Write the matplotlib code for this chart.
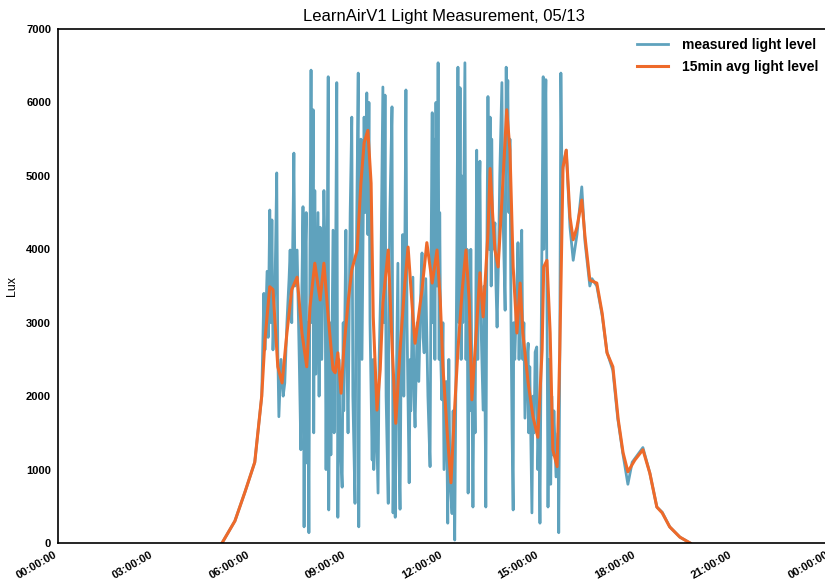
"""
LearnAirV1 light measurement for 05/13 (measured vs 15min average)
"""

import matplotlib
matplotlib.use("Agg")
import matplotlib.pyplot as plt
import matplotlib.dates as mdates
import pandas as pd

plt.rcParams["font.family"] = ["Liberation Sans", "DejaVu Sans"]

DAY = pd.Timestamp("2015-05-13")

# minutes after midnight, lux
avg_min = [306, 330, 349, 367, 380, 386, 395, 401, 410, 418, 427, 436, 446, 455, 464,
           470, 479, 489, 496, 504, 513, 517, 522, 528, 533, 541, 548, 558, 565, 571,
           578, 584, 588, 595, 601, 606, 616, 623, 630, 638, 647, 653, 662, 666, 679,
           688, 698, 707, 713, 718, 726, 733, 739, 746, 754, 761, 767, 772, 780, 787,
           793, 802, 806, 811, 815, 821, 828, 837, 843, 849, 856, 862, 867, 877, 886,
           895, 903, 906, 912, 918, 923, 931, 936, 942, 948, 955, 961, 968, 977, 983,
           992, 1005, 1015, 1024, 1035, 1045, 1054, 1063, 1076, 1091, 1104, 1117, 1127,
           1141, 1160, 1179]
avg_lux = [0, 300, 700, 1100, 2000, 2765, 3490, 3450, 2400, 2180, 2860, 3450, 3620, 2860, 2400,
           3210, 3810, 3310, 3810, 3080, 2360, 2320, 2590, 2040, 2630, 3270, 3720, 3990, 4900, 5450,
           5620, 4900, 3080, 1810, 2360, 3270, 3990, 2720, 1630, 2630, 3540, 4030, 3080, 2720, 3450,
           4090, 3540, 3990, 3310, 2400, 1500, 820, 1720, 2630, 3450, 3990, 3310, 1950, 2860, 3680,
           3080, 4220, 5100, 4440, 3990, 3760, 4670, 5900, 5350, 3760, 2860, 3540, 2860, 2180, 1720,
           1440, 2630, 3760, 3850, 2860, 1270, 1040, 2630, 5120, 5350, 4440, 4130, 4300, 4670, 4170,
           3580, 3540, 3130, 2590, 2400, 1680, 1230, 970, 1130, 1270, 950, 490, 410,
           220, 80, 0]

meas_min = [306, 330, 349, 367, 380, 384, 386, 390, 392, 395, 397, 399, 401, 405, 408,
            410, 412, 416, 420, 423, 427, 431, 433, 436, 440, 442, 446, 450, 453, 455,
            457, 459, 461, 463, 464, 466, 468, 470, 472, 474, 476, 477, 479, 481, 485,
            487, 489, 492, 496, 498, 500, 504, 505, 507, 509, 513, 515, 518, 520, 522,
            524, 526, 530, 532, 533, 537, 539, 541, 545, 548, 550, 554, 556, 560, 561,
            563, 565, 567, 571, 573, 576, 578, 580, 582, 586, 588, 589, 593, 597, 599,
            602, 606, 608, 610, 612, 616, 617, 619, 623, 625, 627, 629, 630, 634, 636,
            638, 640, 643, 645, 649, 651, 655, 657, 658, 662, 664, 666, 670, 673, 677,
            679, 681, 683, 686, 690, 694, 696, 698, 699, 701, 703, 705, 707, 709, 711,
            712, 714, 716, 718, 720, 724, 727, 729, 731, 735, 737, 740, 742, 744, 746,
            748, 750, 752, 753, 755, 759, 761, 763, 765, 767, 768, 770, 774, 776, 778,
            781, 783, 785, 787, 789, 793, 795, 798, 800, 802, 804, 806, 808, 809, 811,
            815, 817, 819, 822, 824, 828, 830, 834, 836, 837, 839, 841, 843, 845, 847,
            849, 850, 852, 856, 858, 860, 862, 865, 867, 869, 871, 875, 877, 878, 880,
            884, 886, 888, 890, 893, 895, 897, 899, 901, 905, 906, 908, 910, 912, 914,
            916, 918, 919, 921, 923, 925, 929, 933, 934, 936, 938, 940, 942, 948, 955,
            961, 968, 977, 983, 992, 996, 1005, 1015, 1024, 1035, 1044, 1054, 1063, 1071,
            1076, 1091, 1104, 1117, 1127, 1141, 1160, 1179]
meas_lux = [0, 300, 700, 1100, 2000, 3400, 2630, 3700, 2800, 4535, 3000, 4400, 2630, 3600, 5040,
            2600, 1720, 2500, 2000, 2180, 3000, 3600, 3990, 3000, 5310, 3500, 3990, 2500, 1270, 3500,
            4580, 220, 3800, 4500, 1090, 3000, 140, 4000, 6440, 3000, 5900, 1500, 4800, 2300, 4500,
            2000, 4300, 2500, 4800, 3990, 1000, 6350, 450, 3000, 1200, 4260, 1500, 4000, 6270, 350,
            2500, 1500, 760, 3000, 1800, 4260, 2500, 1500, 4500, 5800, 2000, 540, 3500, 6400, 220,
            4000, 5500, 2500, 5800, 4500, 6130, 4200, 6000, 3000, 1130, 2500, 1000, 2000, 680, 2500,
            3500, 6210, 3000, 6100, 2000, 540, 3000, 4500, 5940, 410, 2000, 350, 1500, 3810, 1200,
            460, 2500, 4200, 2000, 6170, 3000, 820, 2500, 1800, 3620, 2000, 1580, 3000, 2200, 3500,
            3950, 2800, 2590, 3600, 2000, 1040, 4000, 5860, 3000, 5500, 2500, 6000, 3500, 6540, 2500,
            4500, 2500, 1950, 3000, 1000, 2200, 270, 2500, 900, 400, 1800, 40, 2000, 4000, 6480,
            3000, 6200, 2500, 5000, 3000, 6540, 2500, 4000, 680, 3000, 1800, 4000, 490, 2500, 1500,
            5350, 2500, 4500, 5200, 3000, 1810, 3500, 490, 4000, 6080, 4000, 5800, 3500, 5500, 4000,
            4360, 3500, 2940, 4000, 5000, 6270, 4500, 3170, 6480, 5500, 6300, 4500, 5500, 3000, 1500,
            450, 3000, 2500, 3500, 4090, 2500, 3500, 4260, 2500, 3000, 1700, 2500, 2720, 1500, 2400,
            410, 2000, 1500, 2600, 2670, 1000, 1600, 270, 2500, 6350, 4000, 5500, 6310, 3500, 490,
            2500, 2000, 800, 2000, 1200, 1800, 900, 1500, 140, 2600, 6400, 5000, 5120, 5350, 4300,
            3850, 4200, 4850, 4100, 3500, 3600, 3500, 3100, 2600, 2350, 1700, 1200, 800, 1100,
            1150, 1300, 950, 490, 420, 220, 80, 0]

y_ticks = [0, 1000, 2000, 3000, 4000, 5000, 6000, 7000]


def to_time(minutes):
    return DAY + pd.to_timedelta(minutes, unit="min")


fig = plt.figure(figsize=(8.25, 5.86), dpi=100)
ax = fig.add_axes([58 / 825, 43 / 586, 772 / 825, 514 / 586])

ax.plot(to_time(meas_min), meas_lux, color="#5fa2bd", linewidth=2.0,
        label="measured light level")
ax.plot(to_time(avg_min), avg_lux, color="#ee6a2a", linewidth=2.2,
        label="15min avg light level")

ax.set_xlim(DAY, DAY + pd.Timedelta(days=1))
ax.set_ylim(0, 7000)
ax.set_yticks(y_ticks)
ax.xaxis.set_major_locator(mdates.HourLocator(byhour=range(0, 24, 3)))
ax.xaxis.set_major_formatter(mdates.DateFormatter("%H:%M:%S"))
ax.tick_params(length=0, labelsize=8, pad=5)
for lbl in ax.get_xticklabels():
    lbl.set_rotation(30)
    lbl.set_ha("right")
    lbl.set_fontweight("bold")
for lbl in ax.get_yticklabels():
    lbl.set_fontweight("bold")

for s in ax.spines.values():
    s.set_linewidth(1.2)
    s.set_color("black")
    s.set_zorder(5)

ax.set_title("LearnAirV1 Light Measurement, 05/13", fontsize=12, pad=6)
ax.set_ylabel("Lux", fontsize=9, labelpad=6)

ax.legend(loc="upper right", bbox_to_anchor=(818 / 825, 1 - 38 / 586),
          bbox_transform=fig.transFigure, frameon=False, borderpad=0,
          borderaxespad=0, handlelength=2.2, handletextpad=1.0,
          labelspacing=0.55, prop={"size": 10, "weight": "bold"})

fig.savefig("out.png", dpi=100)
